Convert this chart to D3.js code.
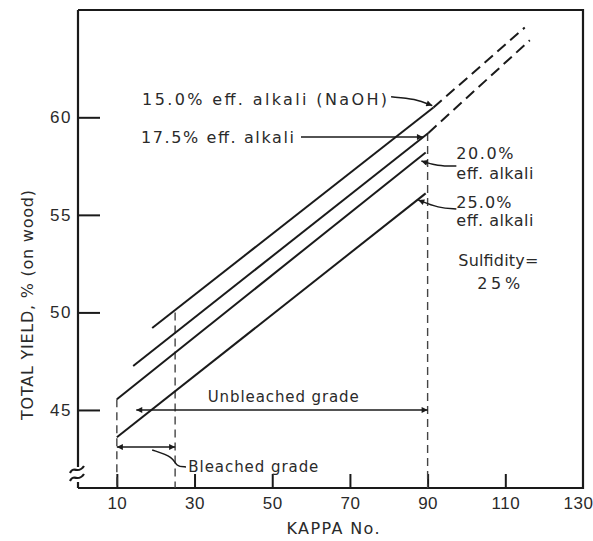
<!DOCTYPE html>
<html>
  <head>
    <script src="https://d3js.org/d3.v7.min.js"></script>
    <style>
      body { margin: 0; background: #fff; }
      svg { font-family: "DejaVu Sans", sans-serif; }
      text { fill: #2a2a2a; }
      .axis path.domain { display: none; }
      .axis line { stroke: #1a1a1a; stroke-width: 2; }
      .axis text { font-size: 17px; fill: #2a2a2a; letter-spacing: 1.5px; }
      .xaxis text { letter-spacing: 0.5px; }
      .frame { stroke: #1a1a1a; stroke-width: 2.2; fill: none; }
      .curve { stroke: #1a1a1a; stroke-width: 2; fill: none; }
      .ext { stroke: #1a1a1a; stroke-width: 2; fill: none; stroke-dasharray: 11,6; }
      .ref { stroke: #444; stroke-width: 1.4; fill: none; stroke-dasharray: 8,5; }
      .arrow { stroke: #1a1a1a; stroke-width: 1.5; fill: none; }
    </style>
  </head>
  <body>
    <script>
      // tick values
      var kappaTicks = [10, 30, 50, 70, 90, 110, 130];
      var yieldTicks = [45, 50, 55, 60];

      // the four effective-alkali curves, solid part
      var seriesNames = ["15.0% eff. alkali (NaOH)", "17.5% eff. alkali", "20.0% eff. alkali", "25.0% eff. alkali"];
      var solidKappa = [[19.1, 91.5], [14.2, 90.2], [10, 89.5], [10, 89.5]];
      var solidYield = [[49.2, 60.5], [47.25, 59.2], [45.55, 58.2], [43.6, 56.1]];

      // dashed extrapolation of the first two curves
      var dashKappa = [[91.5, 115.0], [90.2, 116.3]];
      var dashYield = [[60.5, 64.6], [59.2, 63.95]];

      // vertical dashed reference lines
      var refKappa = [10, 25, 90];
      var refTopYield = [45.55, 50.0, 59.2];

      // grade ranges
      var unbleachedKappa = [15, 90];
      var unbleachedYield = 45;
      var bleachedKappa = [10, 25];
      var bleachedYield = 43.1;

      var W = 593, H = 541;
      var margin = { top: 10, right: 11, bottom: 53, left: 78 };

      var x = d3.scaleLinear().domain([0, 130]).range([margin.left, W - margin.right + 1]);
      var y = d3.scaleLinear().domain([41, 65.5]).range([H - margin.bottom, margin.top]);

      var svg = d3.select("body").append("svg")
        .attr("width", W)
        .attr("height", H);

      var defs = svg.append("defs");
      defs.append("marker")
        .attr("id", "head")
        .attr("viewBox", "0 0 10 10")
        .attr("refX", 10).attr("refY", 5)
        .attr("markerWidth", 9).attr("markerHeight", 6)
        .attr("markerUnits", "userSpaceOnUse")
        .attr("orient", "auto-start-reverse")
        .append("path")
        .attr("d", "M0,0 L10,5 L0,10 z")
        .attr("fill", "#1a1a1a");

      var x0 = x.range()[0], x1 = x.range()[1];
      var yb = y.range()[0], yt = y.range()[1];

      // frame (top, right, bottom) and the broken left axis
      svg.append("path").attr("class", "frame")
        .attr("d", "M" + x0 + "," + yt + "H" + x1 + "V" + yb + "H" + x0);
      svg.append("path").attr("class", "frame")
        .attr("d", "M" + x0 + "," + yt + "V" + (yb - 21));
      svg.append("path").attr("class", "frame")
        .attr("d", "M" + x0 + "," + (yb - 6) + "V" + yb);
      // axis break
      [yb - 19, yb - 11].forEach(function (yy) {
        svg.append("path").attr("class", "frame").attr("stroke-width", 1.8)
          .attr("d", "M" + (x0 - 8) + "," + (yy + 4) + "C" + (x0 - 4) + "," + (yy - 4) + " " + (x0 + 0) + "," + (yy + 6) + " " + (x0 + 6) + "," + (yy - 3));
      });

      // axes
      svg.append("g")
        .attr("class", "axis")
        .attr("transform", "translate(" + x0 + ",0)")
        .call(d3.axisLeft(y).tickValues(yieldTicks).tickSizeInner(-22).tickSizeOuter(0).tickPadding(6));

      var xa = svg.append("g")
        .attr("class", "axis xaxis")
        .attr("transform", "translate(0," + yb + ")")
        .call(d3.axisBottom(x).tickValues(kappaTicks).tickSizeInner(-14).tickSizeOuter(0).tickPadding(9));
      var last = xa.selectAll(".tick").filter(function (d) { return d === 130; });
      last.select("line").remove();
      last.select("text").attr("dx", -5);

      // reference verticals
      refKappa.forEach(function (k, i) {
        svg.append("line").attr("class", "ref")
          .attr("x1", x(k)).attr("x2", x(k))
          .attr("y1", y(refTopYield[i])).attr("y2", yb);
      });

      var line = d3.line().x(function (d) { return x(d[0]); }).y(function (d) { return y(d[1]); });

      // solid curves
      seriesNames.forEach(function (name, i) {
        svg.append("path").attr("class", "curve")
          .attr("d", line([[solidKappa[i][0], solidYield[i][0]], [solidKappa[i][1], solidYield[i][1]]]));
      });
      // dashed extensions
      dashKappa.forEach(function (ks, i) {
        svg.append("path").attr("class", "ext")
          .attr("d", line([[ks[0], dashYield[i][0]], [ks[1], dashYield[i][1]]]));
      });

      // grade arrows
      svg.append("path").attr("class", "arrow")
        .attr("marker-start", "url(#head)").attr("marker-end", "url(#head)")
        .attr("d", line([[unbleachedKappa[0], unbleachedYield], [unbleachedKappa[1], unbleachedYield]]));
      svg.append("path").attr("class", "arrow")
        .attr("marker-start", "url(#head)").attr("marker-end", "url(#head)")
        .attr("d", line([[bleachedKappa[0], bleachedYield], [bleachedKappa[1], bleachedYield]]));

      // label helper
      function label(t, k, v, size, len, anchor) {
        var el = svg.append("text")
          .attr("x", x(k)).attr("y", y(v)).attr("dy", "0.35em")
          .attr("font-size", size)
          .attr("text-anchor", anchor || "start")
          .text(t);
        if (len) el.attr("textLength", len).attr("lengthAdjust", "spacing");
        return el;
      }

      var curved = d3.line().curve(d3.curveBasis)
        .x(function (d) { return x(d[0]); }).y(function (d) { return y(d[1]); });

      // series labels with pointers
      label(seriesNames[0], 16.5, 60.94, 16, 245);
      svg.append("path").attr("class", "arrow").attr("marker-end", "url(#head)")
        .attr("d", curved([[80.6, 61.05], [86.8, 60.95], [91.2, 60.6]]));

      label(seriesNames[1], 16.2, 58.99, 16, 153);
      svg.append("path").attr("class", "arrow").attr("marker-end", "url(#head)")
        .attr("d", line([[57.4, 58.99], [88.8, 58.99]]));

      label("20.0%", 97.4, 58.17, 16, 57);
      label("eff. alkali", 97.4, 57.15, 16, 77);
      svg.append("path").attr("class", "arrow").attr("marker-end", "url(#head)")
        .attr("d", curved([[97.4, 57.5], [92.5, 57.5], [88.4, 57.76]]));

      label("25.0%", 97.4, 55.66, 16, 55);
      label("eff. alkali", 97.4, 54.74, 16, 77);
      svg.append("path").attr("class", "arrow").attr("marker-end", "url(#head)")
        .attr("d", curved([[97.4, 55.3], [92.8, 55.35], [87.6, 55.76]]));

      label("Sulfidity=", 97.9, 52.69, 16, 80);
      label("25%", 108.3, 51.5, 16, 43, "middle");

      label("Unbleached grade", 33.4, 45.66, 15, 151);
      label("Bleached grade", 28.4, 42.08, 15, 130);
      svg.append("path").attr("class", "arrow").attr("stroke-width", 1.2)
        .attr("d", curved([[19.1, 42.95], [24.6, 42.6], [25.2, 42.1], [27.8, 42.08]]));

      // axis titles
      svg.append("text")
        .attr("x", 333).attr("y", 528).attr("dy", "0.35em")
        .attr("text-anchor", "middle").attr("font-size", 16)
        .attr("textLength", 93).attr("lengthAdjust", "spacing")
        .text("KAPPA No.");
      svg.append("text")
        .attr("transform", "translate(27,305) rotate(-90)")
        .attr("dy", "0.35em")
        .attr("text-anchor", "middle").attr("font-size", 16)
        .attr("textLength", 230).attr("lengthAdjust", "spacing")
        .text("TOTAL YIELD, % (on wood)");
    </script>
  </body>
</html>
